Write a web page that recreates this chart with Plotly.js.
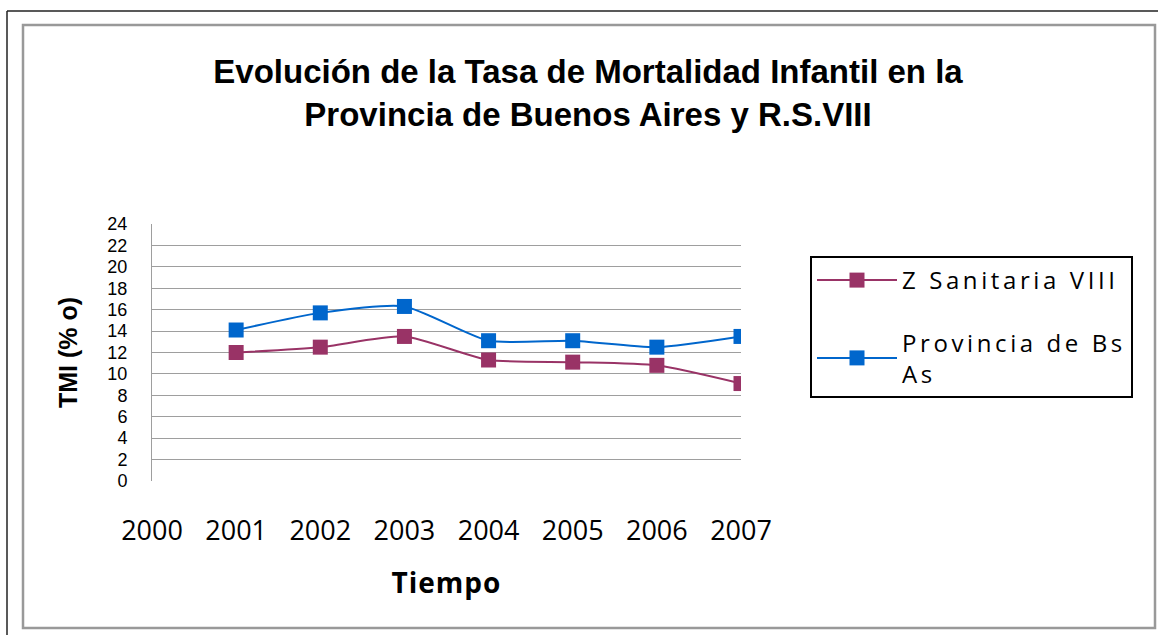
<!DOCTYPE html>
<html>
<head>
<meta charset="utf-8">
<script src="https://cdn.plot.ly/plotly-3.0.1.min.js"></script>
<style>
  html, body { margin: 0; padding: 0; background: #ffffff; }
  #chart { width: 1158px; height: 635px; }
</style>
</head>
<body>
<div id="chart"></div>
<script>
// ---- data ----
const years = [2001, 2002, 2003, 2004, 2005, 2006, 2007];
const zonaSanitaria = [12.0, 12.5, 13.5, 11.3, 11.1, 10.8, 9.1];
const provinciaBsAs = [14.1, 15.7, 16.3, 13.1, 13.1, 12.5, 13.5];
const xTickValues = [2000, 2001, 2002, 2003, 2004, 2005, 2006, 2007];
const xTickLabels = ['2000', '2001', '2002', '2003', '2004', '2005', '2006', '2007'];
const yTickValues = [0, 2, 4, 6, 8, 10, 12, 14, 16, 18, 20, 22, 24];
const seriesNames = ['Z Sanitaria VIII', 'Provincia de Bs<br>As'];
const titleLines = ['Evolución de la Tasa de Mortalidad Infantil en la', 'Provincia de Buenos Aires y R.S.VIII'];

// ---- layout geometry (pixels) ----
const W = 1158, H = 635;
const plotL = 152, plotR = 741, plotT = 224, plotB = 481;
const px = v => (v - plotL) / (plotR - plotL);
const py = v => (plotB - v) / (plotB - plotT);
const spaced = s => s.split('<br>').map(p => '<span style="letter-spacing:3.6px">' + p + '</span>').join('<br>');

const traces = [
  {
    x: years, y: zonaSanitaria, name: spaced(seriesNames[0]), legendgroup: 'a',
    type: 'scatter', mode: 'lines+markers',
    line: { color: '#993366', width: 2, shape: 'spline', smoothing: 0.6 },
    marker: { symbol: 'square', size: 15, color: '#993366' }
  },
  {
    x: years, y: provinciaBsAs, name: spaced(seriesNames[1]), legendgroup: 'b',
    type: 'scatter', mode: 'lines+markers',
    line: { color: '#0066CC', width: 2, shape: 'spline', smoothing: 0.6 },
    marker: { symbol: 'square', size: 15, color: '#0066CC' }
  }
];

const layout = {
  width: W, height: H,
  paper_bgcolor: '#ffffff', plot_bgcolor: '#ffffff',
  margin: { l: plotL, r: W - plotR, t: plotT, b: H - plotB, autoexpand: false },
  title: {
    text: titleLines.map(t => '<b>' + t + '</b>').join('<br>'),
    font: { family: 'Liberation Sans, Arial, sans-serif', size: 33, color: '#000000' },
    xref: 'container', x: 588 / W, xanchor: 'center',
    yref: 'container', y: 1 - 83 / H, yanchor: 'top'
  },
  xaxis: {
    range: [2000, 2007],
    tickmode: 'array', tickvals: xTickValues, ticktext: xTickLabels,
    showgrid: false, zeroline: false, showline: false,
    ticks: '', ticklabelstandoff: 31,
    tickfont: { family: 'Open Sans, sans-serif', size: 27, color: '#000000' },
    title: { text: '<b><span style="letter-spacing:1px">Tiempo</span></b>', standoff: 26,
             font: { family: 'Open Sans, sans-serif', size: 28, color: '#000000' } },
    automargin: false, fixedrange: true
  },
  yaxis: {
    range: [0, 24],
    tickmode: 'array', tickvals: yTickValues,
    showgrid: true, gridcolor: '#9e9e9e', gridwidth: 1,
    zeroline: false, showline: true, linecolor: '#9e9e9e', linewidth: 1,
    ticks: '', ticklabelstandoff: 20,
    tickfont: { family: 'Liberation Sans, Arial, sans-serif', size: 18, color: '#000000' },
    title: { text: '<b>TMI (% o)</b>', standoff: 22,
             font: { family: 'Liberation Sans, Arial, sans-serif', size: 25, color: '#000000' } },
    automargin: false, fixedrange: true
  },
  showlegend: true,
  legend: {
    x: px(810), xanchor: 'left', y: py(256), yanchor: 'top',
    bgcolor: '#ffffff', bordercolor: '#000000', borderwidth: 2,
    font: { family: 'Open Sans, sans-serif', size: 24, color: '#000000' },
    tracegroupgap: 28, itemwidth: 80,
    traceorder: 'grouped'
  },
  shapes: [
    // inner grey chart-area frame
    { type: 'rect', xref: 'paper', yref: 'paper',
      x0: px(23), x1: px(1155), y0: py(628), y1: py(25),
      line: { color: '#999999', width: 2.5 }, layer: 'below' },
    // outer black frame (top and left edges)
    { type: 'line', xref: 'paper', yref: 'paper',
      x0: px(7), x1: px(1160), y0: py(11), y1: py(11),
      line: { color: '#222222', width: 1.5 } },
    { type: 'line', xref: 'paper', yref: 'paper',
      x0: px(7), x1: px(7), y0: py(11), y1: py(640),
      line: { color: '#222222', width: 1.5 } }
  ]
};

Plotly.newPlot('chart', traces, layout, { displayModeBar: false, staticPlot: true });
</script>
</body>
</html>
